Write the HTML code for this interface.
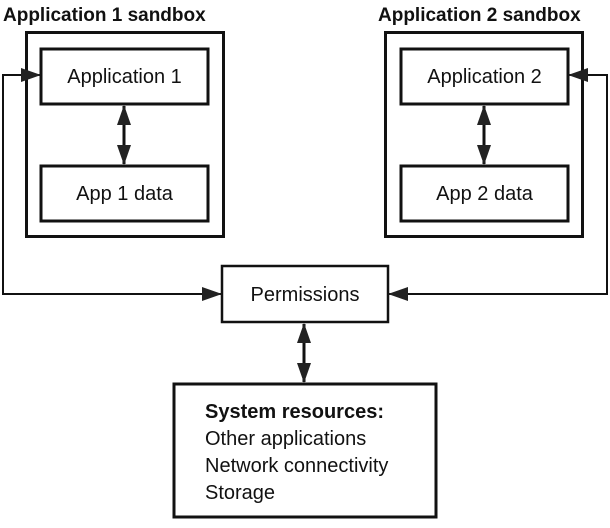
<!DOCTYPE html>
<html><head><style>
body{margin:0;background:#fff}
svg text{font-family:"Liberation Sans",sans-serif;fill:#111}
</style></head><body>
<svg width="610" height="523" viewBox="0 0 610 523" xmlns="http://www.w3.org/2000/svg">
<defs>
<marker id="a" markerWidth="20" markerHeight="14" refX="19" refY="7" orient="auto-start-reverse" markerUnits="userSpaceOnUse">
<path d="M0,0 L20,7 L0,14 Z" fill="#222"/></marker>
</defs>
<g fill="none" stroke="#111">
<rect x="26.5" y="32.5" width="197" height="204" stroke-width="3"/>
<rect x="41" y="49" width="167" height="55" stroke-width="3"/>
<rect x="41" y="166" width="167" height="55" stroke-width="3"/>
<rect x="385.5" y="32.5" width="197" height="204" stroke-width="3"/>
<rect x="401" y="49" width="167" height="55" stroke-width="3"/>
<rect x="401" y="166" width="167" height="55" stroke-width="3"/>
<rect x="222" y="266" width="166" height="56" stroke-width="2.5"/>
<rect x="174" y="384" width="262" height="133" stroke-width="3"/>
<g stroke-width="2">
<line x1="124" y1="106" x2="124" y2="164" stroke-width="3" marker-start="url(#a)" marker-end="url(#a)"/>
<line x1="484" y1="106" x2="484" y2="164" stroke-width="3" marker-start="url(#a)" marker-end="url(#a)"/>
<line x1="304" y1="324" x2="304" y2="382" stroke-width="3" marker-start="url(#a)" marker-end="url(#a)"/>
<polyline points="221,294 3,294 3,75 40,75" marker-start="url(#a)" marker-end="url(#a)"/>
<polyline points="389,294 607,294 607,75 569,75" marker-start="url(#a)" marker-end="url(#a)"/>
</g>
</g>
<text x="3" y="21" font-size="19" font-weight="bold">Application 1 sandbox</text>
<text x="378" y="21" font-size="19" font-weight="bold">Application 2 sandbox</text>
<text x="124.5" y="83" font-size="20" text-anchor="middle">Application 1</text>
<text x="124.5" y="200" font-size="20" text-anchor="middle">App 1 data</text>
<text x="484.5" y="83" font-size="20" text-anchor="middle">Application 2</text>
<text x="484.5" y="200" font-size="20" text-anchor="middle">App 2 data</text>
<text x="305" y="301" font-size="20" text-anchor="middle">Permissions</text>
<text x="205" y="418" font-size="20" font-weight="bold">System resources:</text>
<text x="205" y="445" font-size="20">Other applications</text>
<text x="205" y="472" font-size="20">Network connectivity</text>
<text x="205" y="499" font-size="20">Storage</text>
</svg>
</body></html>
